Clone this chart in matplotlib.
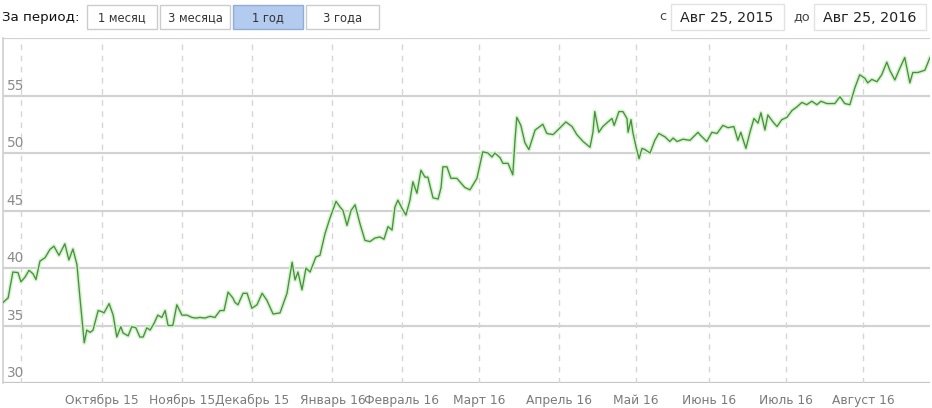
import matplotlib
matplotlib.use("Agg")
import matplotlib.pyplot as plt
from matplotlib.patches import Rectangle
import matplotlib.transforms as mtransforms

# trading-day position (0 = 25 Aug 2015) and close price
days = [0.0, 1.4, 2.7, 4.1, 4.9, 6.0, 7.1, 8.2, 9.0, 10.1, 11.5, 12.8, 13.9, 15.3,
        16.9, 18.0, 19.1, 20.2, 21.0, 22.2, 22.9, 23.8, 24.6, 26.0, 27.0, 27.6,
        29.0, 30.1, 31.1, 32.2, 32.8, 34.2, 35.2, 36.3, 37.4, 38.3, 39.3, 40.2,
        41.3, 42.3, 43.4, 44.3, 45.1, 46.4, 47.5, 48.9, 50.3, 51.6, 52.7, 53.8,
        55.2, 56.6, 57.9, 59.3, 60.4, 61.5, 62.8, 63.4, 64.2, 65.6, 66.7, 68.0,
        69.4, 70.8, 72.1, 73.8, 75.7, 77.6, 79.0, 79.8, 80.6, 81.7, 82.8, 83.9,
        85.5, 86.6, 88.0, 89.3, 91.0, 92.1, 92.9, 94.0, 95.1, 96.2, 97.5, 98.9,
        100.3, 101.6, 103.0, 104.1, 105.2, 106.3, 107.1, 107.9, 109.0, 110.1,
        111.2, 112.0, 113.1, 114.2, 115.3, 116.1, 117.5, 118.9, 119.7, 120.2,
        121.3, 122.4, 124.0, 126.2, 127.6, 129.5, 131.1, 132.5, 133.6, 134.4,
        135.8, 136.6, 138.0, 139.3, 139.9, 140.4, 141.5, 142.6, 143.7, 145.4,
        146.7, 147.5, 148.6, 150.3, 151.6, 153.8, 155.5, 156.8, 158.5, 160.4,
        161.2, 161.7, 162.3, 162.8, 163.9, 165.3, 166.4, 167.0, 168.3, 169.4,
        170.5, 170.8, 171.6, 172.1, 173.0, 173.8, 174.6, 175.4, 176.8, 178.1,
        179.2, 180.9, 182.2, 183.1, 184.2, 185.8, 187.7, 189.9, 190.4, 192.3,
        193.7, 195.1, 196.7, 198.1, 199.7, 200.8, 201.6, 203.0, 204.1, 205.2,
        206.3, 207.1, 208.2, 209.0, 210.4, 211.5, 212.8, 214.2, 215.6, 216.9,
        218.3, 219.6, 221.0, 222.4, 223.5, 225.1, 227.3, 228.7, 230.0, 231.4,
        232.8, 234.1, 235.5, 236.3, 237.4, 238.8, 240.1, 241.5, 242.3, 243.7,
        245.1, 246.4, 247.8, 248.6, 250.0, 251.9, 253.3]
prices = [37.0, 37.4, 39.65, 39.6, 38.8, 39.2, 39.8, 39.5, 39.0, 40.6, 40.9, 41.6,
          41.9, 41.1, 42.1, 40.7, 41.65, 40.3, 37.5, 33.5, 34.6, 34.4, 34.6, 36.3,
          36.2, 36.1, 36.9, 35.9, 34.0, 34.9, 34.35, 34.1, 34.9, 34.8, 34.0, 34.0,
          34.8, 34.6, 35.2, 35.9, 35.7, 36.3, 35.0, 35.0, 36.8, 35.9, 35.9, 35.7,
          35.65, 35.7, 35.65, 35.8, 35.7, 36.3, 36.3, 37.9, 37.4, 37.0, 36.8, 37.8,
          37.8, 36.5, 36.8, 37.8, 37.2, 36.0, 36.1, 37.8, 40.5, 38.96, 39.65, 38.1,
          40.0, 39.65, 40.96, 41.1, 43.0, 44.3, 45.8, 45.3, 45.0, 43.7, 45.0, 45.5,
          43.9, 42.4, 42.3, 42.6, 42.7, 42.5, 43.6, 43.3, 45.3, 45.9, 45.2, 44.6,
          45.9, 47.5, 46.5, 48.5, 47.9, 47.9, 46.1, 46.0, 47.0, 48.8, 48.8, 47.8,
          47.8, 47.0, 46.8, 47.8, 50.1, 50.0, 49.65, 50.0, 49.6, 49.1, 49.1, 48.1,
          51.1, 53.1, 52.4, 50.9, 50.3, 52.0, 52.3, 52.5, 51.7, 51.6, 52.0, 52.7,
          52.3, 51.6, 51.0, 50.5, 51.8, 53.6, 52.6, 51.8, 52.3, 52.7, 53.0, 52.4,
          53.6, 53.6, 53.0, 51.8, 52.9, 51.8, 50.5, 49.5, 50.4, 50.3, 50.0, 51.1,
          51.7, 51.4, 51.0, 51.3, 51.0, 51.2, 51.1, 51.8, 51.6, 51.0, 51.8, 51.7,
          52.4, 52.2, 52.3, 51.1, 51.8, 50.4, 51.8, 53.0, 52.6, 53.5, 52.0, 53.3,
          52.7, 52.3, 52.9, 53.1, 53.7, 54.0, 54.4, 54.2, 54.5, 54.2, 54.5, 54.3,
          54.3, 54.9, 54.3, 54.2, 55.7, 56.8, 56.5, 56.1, 56.4, 56.2, 56.8, 57.9,
          57.2, 56.35, 57.4, 58.3, 56.1, 57.0, 57.0, 57.2, 58.3]

month_ticks = [5, 27, 49, 68, 90, 109, 130, 152, 173, 193, 214, 235]
month_labels = ['', 'Октябрь 15', 'Ноябрь 15', 'Декабрь 15', 'Январь 16',
                'Февраль 16', 'Март 16', 'Апрель 16', 'Май 16', 'Июнь 16',
                'Июль 16', 'Август 16']
y_ticks = [30, 35, 40, 45, 50, 55, 60]

period_buttons = ['1 месяц', '3 месяца', '1 год', '3 года']
active_button = '1 год'
date_from = 'Авг 25, 2015'
date_to = 'Авг 25, 2016'

plt.rcParams['font.family'] = ['DejaVu Sans']

W, H = 932, 408
fig = plt.figure(figsize=(W / 100, H / 100), dpi=100)
fig.patch.set_facecolor('white')

ax = fig.add_axes([3 / W, 25 / H, 927 / W, 345 / H])
ax.set_xlim(0, 253.3)
ax.set_ylim(30, 60)

# grid
for y in y_ticks:
    ax.axhline(y, color='#c6c6c6' if y == 30 else '#d2d2d2', lw=1.6, zorder=1)
for x in month_ticks:
    ax.axvline(x, color='#d6d6d6', lw=1.0, ls=(0, (4, 4)), zorder=1)

ax.plot(days, prices, color='#d3f4cb', lw=3.0, solid_joinstyle='round', zorder=2)
ax.plot(days, prices, color='#4a8f40', lw=0.95, solid_joinstyle='round', zorder=3)

ax.set_xticks(month_ticks)
ax.set_xticklabels(month_labels, fontsize=8.8, color='#7a7a7a')
ax.tick_params(axis='x', length=0, pad=8)
ax.set_yticks([])
for s in ['top', 'right', 'bottom']:
    ax.spines[s].set_visible(False)
ax.spines['left'].set_color('#d0d0d0')
ax.spines['left'].set_linewidth(1.2)

trans = mtransforms.blended_transform_factory(ax.transAxes, ax.transData)
for y in y_ticks[:-1]:
    ax.text(0.004, y + 0.25, str(y), transform=trans, fontsize=9.8,
            color='#8a8a8a', ha='left', va='bottom', zorder=4)

# controls row on top
ui = fig.add_axes([0, 0, 1, 1], facecolor='none')
ui.set_xlim(0, W)
ui.set_ylim(H, 0)
ui.axis('off')

ui.text(2, 17.5, 'За период:', fontsize=9.6, color='#111111', va='center', ha='left')
bx = 87
for lab in period_buttons:
    w = 70 if lab != '3 года' else 73
    on = lab == active_button
    ui.add_patch(Rectangle((bx, 5), w, 24, facecolor='#b3cbef' if on else 'white',
                           edgecolor='#92acd8' if on else '#cccccc', lw=1.0))
    ui.text(bx + w / 2, 17.5, lab, fontsize=8.3, color='#333333',
            ha='center', va='center')
    bx += w + 3

ui.text(659, 17, 'с', fontsize=9.3, color='#444444', va='center', ha='left')
ui.add_patch(Rectangle((671, 4), 113, 26, facecolor='white', edgecolor='#e2e2e2', lw=1.0))
ui.text(727, 17.5, date_from, fontsize=10.3, color='#222222', ha='center', va='center')
ui.text(793, 17, 'до', fontsize=9.3, color='#444444', va='center', ha='left')
ui.add_patch(Rectangle((814, 4), 112, 26, facecolor='white', edgecolor='#e2e2e2', lw=1.0))
ui.text(870, 17.5, date_to, fontsize=10.3, color='#222222', ha='center', va='center')

fig.savefig('out.png', dpi=100)
